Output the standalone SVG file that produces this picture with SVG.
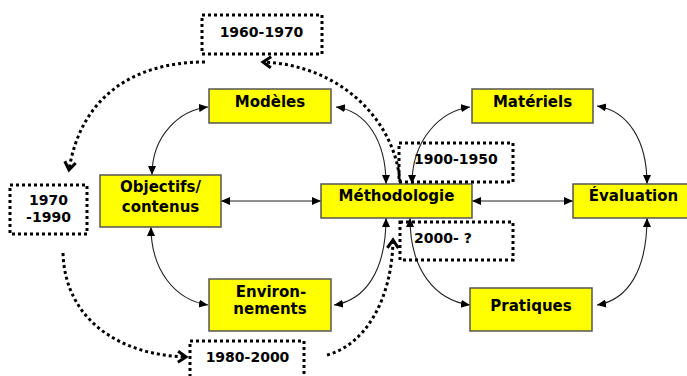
<svg xmlns="http://www.w3.org/2000/svg" width="687" height="376" viewBox="0 0 687 376">
<style>
.box{fill:#ffff00;stroke:#555;stroke-width:1.5}
.lbl{font-family:"DejaVu Sans","Verdana",sans-serif;font-weight:bold;font-size:15px;fill:#000;text-anchor:middle}
.era{font-family:"DejaVu Sans","Verdana",sans-serif;font-weight:bold;font-size:14px;fill:#000}
.dbox{fill:none;stroke:#000;stroke-width:3;stroke-dasharray:3 3}
.link{fill:none;stroke:#222;stroke-width:1.1;marker-start:url(#ah);marker-end:url(#ah)}
.flow{fill:none;stroke:#000;stroke-width:3;stroke-dasharray:3 3;marker-end:url(#chev)}
</style>
<defs>
<marker id="ah" markerUnits="userSpaceOnUse" markerWidth="10" markerHeight="9" refX="9" refY="4" orient="auto-start-reverse" viewBox="0 0 10 9">
<path d="M0,0 L9,4 L0,8 z" fill="#000"/>
</marker>
<marker id="chev" markerUnits="userSpaceOnUse" markerWidth="14" markerHeight="14" refX="10" refY="7" orient="auto" viewBox="0 0 14 14">
<path d="M2,1.5 L10,7 L2,12.5" fill="none" stroke="#000" stroke-width="3"/>
</marker>
</defs>

<g id="connectors">
<path class="link" d="M152 175 C152 135 180 110 208 107"/>
<path class="link" d="M151 227 C151 270 175 300 208 305"/>
<path class="link" d="M221 201 H321"/>
<path class="link" d="M336 107 C366 111 386 140 386 184"/>
<path class="link" d="M334 305 C366 300 386 270 386 218"/>
<path class="link" d="M412 184 C412 140 440 111 470 107"/>
<path class="link" d="M410 218 C410 270 435 300 470 305"/>
<path class="link" d="M472 201 H573"/>
<path class="link" d="M597 106 C628 111 647 140 647 184"/>
<path class="link" d="M597 305 C628 300 647 270 647 218"/>
<path class="flow" d="M205 62 C130 62 80 100 69 170"/>
<path class="flow" d="M400 182 C395 120 340 65 263 62"/>
<path class="flow" d="M63 253 C65 320 120 355 186 357"/>
<path class="flow" d="M327 355 C365 345 392 300 393 240"/>
</g>

<g id="modeles"><rect class="box" x="209" y="89" width="122" height="34"/><text class="lbl" x="270" y="107">Modèles</text></g>
<g id="materiels"><rect class="box" x="472" y="89" width="121" height="34"/><text class="lbl" x="532.5" y="107">Matériels</text></g>
<g id="objectifs"><rect class="box" x="100" y="175" width="121" height="52"/><text class="lbl" x="160.5" y="192">Objectifs/</text><text class="lbl" x="160.5" y="212">contenus</text></g>
<g id="methodologie"><rect class="box" x="321" y="184" width="151" height="34"/><text class="lbl" x="396.5" y="201">Méthodologie</text></g>
<g id="evaluation"><rect class="box" x="573" y="184" width="121" height="34"/><text class="lbl" x="633.5" y="201">Évaluation</text></g>
<g id="environnements"><rect class="box" x="209" y="279" width="122" height="52"/><text class="lbl" x="271" y="297">Environ-</text><text class="lbl" x="270" y="314">nements</text></g>
<g id="pratiques"><rect class="box" x="470" y="288" width="122" height="43"/><text class="lbl" x="531" y="311">Pratiques</text></g>

<g id="era1960"><rect class="dbox" x="202" y="15" width="120" height="39"/><text class="era" x="261.5" y="37" text-anchor="middle">1960-1970</text></g>
<g id="era1970"><rect class="dbox" x="10" y="185" width="77" height="49"/><text class="era" x="48.5" y="205" text-anchor="middle">1970</text><text class="era" x="48.5" y="222" text-anchor="middle">-1990</text></g>
<g id="era1980"><rect class="dbox" x="190" y="341" width="114" height="45"/><text class="era" x="247.5" y="362" text-anchor="middle">1980-2000</text></g>
<g id="era1900"><rect class="dbox" x="399" y="143" width="114" height="39"/><text class="era" x="414" y="164">1900-1950</text></g>
<g id="era2000"><rect class="dbox" x="400" y="222" width="113" height="38"/><text class="era" x="414" y="243">2000- ?</text></g>
</svg>
